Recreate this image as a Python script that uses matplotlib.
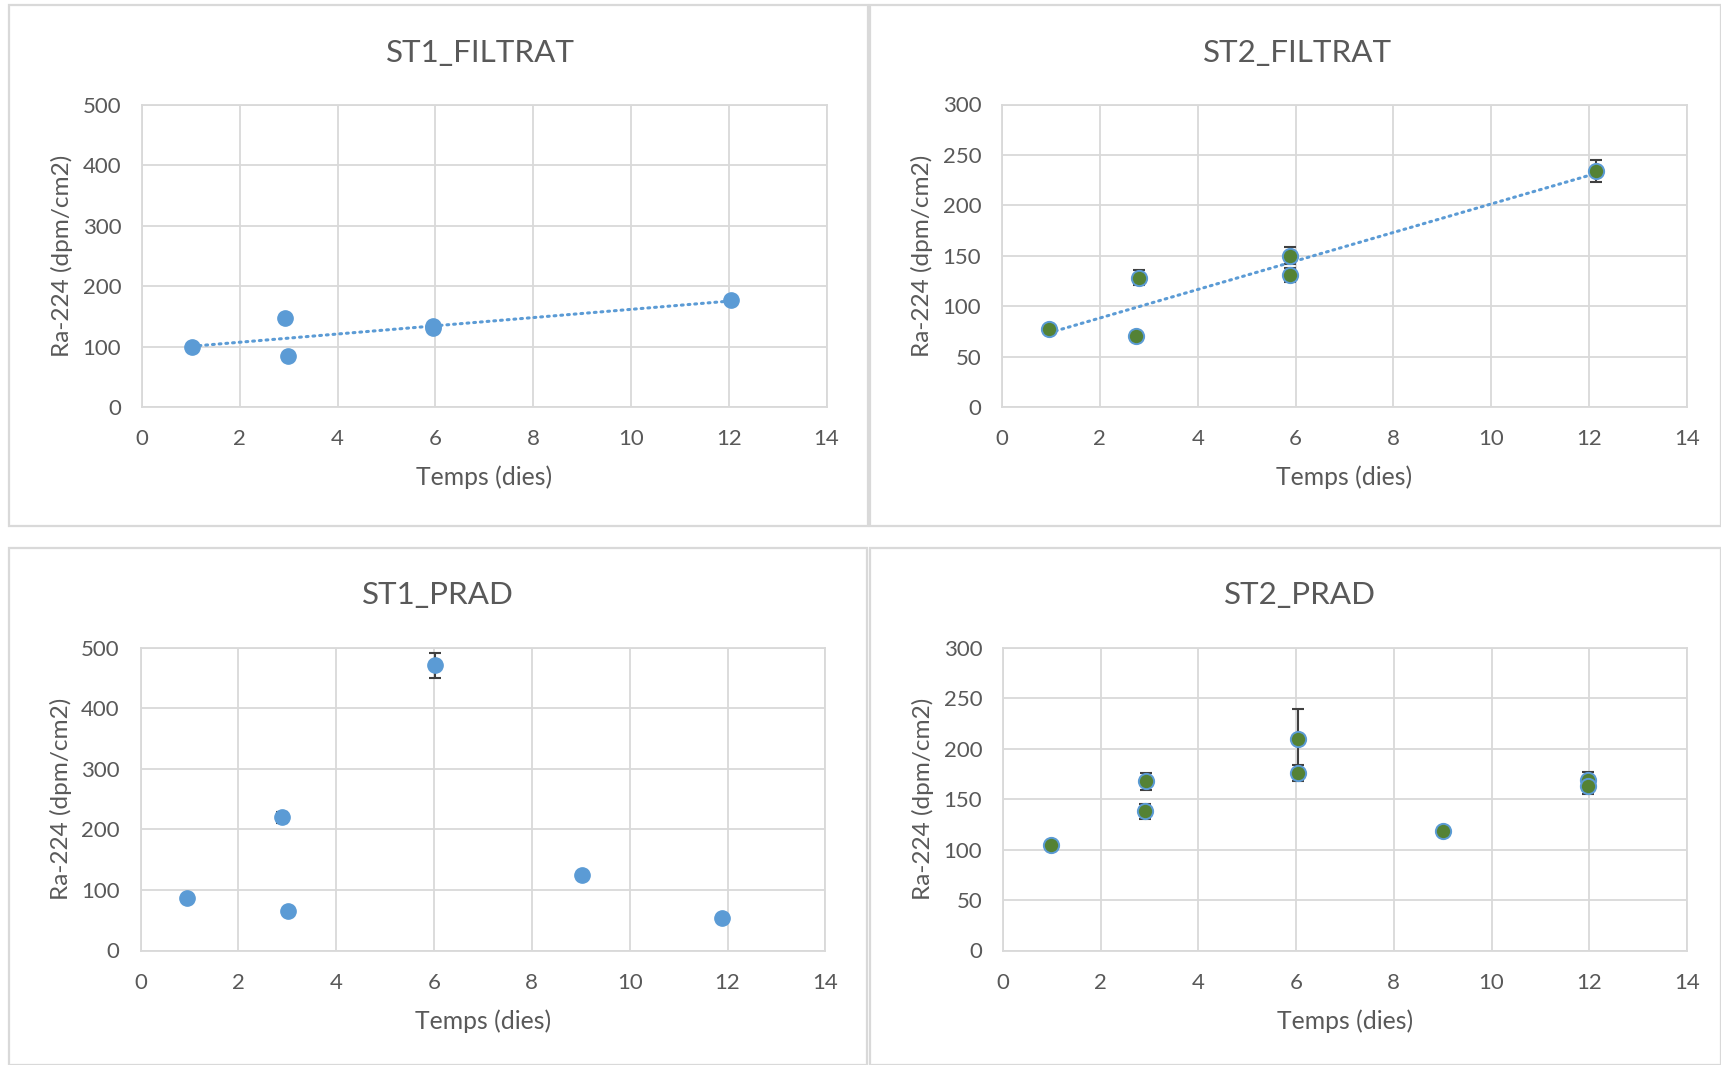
import matplotlib
matplotlib.use("Agg")
import matplotlib.pyplot as plt
import numpy as np
from matplotlib.patches import Rectangle

plt.rcParams['font.family'] = ['Lato', 'DejaVu Sans']

# ---- data ----
titles = ["ST1_FILTRAT", "ST2_FILTRAT", "ST1_PRAD", "ST2_PRAD"]
xlabel = "Temps (dies)"
ylabel = "Ra-224 (dpm/cm2)"

st1_filt_x = [1.03, 2.93, 2.98, 5.96, 5.96, 12.04]
st1_filt_y = [100, 147, 84, 130, 134, 177]

st2_filt_x = [0.96, 2.80, 2.74, 5.89, 5.89, 12.14]
st2_filt_y = [77, 128, 70, 150, 131, 234]
st2_filt_err = [2, 7.5, 2, 8.5, 7, 10.7]

st1_prad_x = [0.96, 2.90, 3.01, 6.03, 9.02, 11.89]
st1_prad_y = [86, 220, 65, 471, 124, 53]
st1_prad_err = [2, 9, 2, 20.4, 2, 2]

st2_prad_x = [0.99, 2.92, 2.90, 6.03, 6.03, 9.00, 11.98, 11.98]
st2_prad_y = [104, 167.5, 138, 209, 176, 118, 169, 162.5]
st2_prad_err = [2, 8.4, 7.4, 29.7, 7.8, 2, 7.3, 7.3]

x_ticks = [0, 2, 4, 6, 8, 10, 12, 14]
y_ticks_st1 = [0, 100, 200, 300, 400, 500]
y_ticks_st2 = [0, 50, 100, 150, 200, 250, 300]

# ---- style ----
W, H = 1721, 1065
BLUE = "#5B9BD5"
GREEN = "#548235"
GRID = "#D9D9D9"
TXT = "#595959"
ERR = "#404040"

fig = plt.figure(figsize=(W / 100, H / 100), dpi=100)

def fx(px):
    return px / W

def fy(py):
    return 1 - py / H

# panel borders (pixel boxes)
borders = [(9, 5, 868, 526), (870, 5, 1721, 526), (9, 548, 867, 1065), (870, 548, 1721, 1065)]
for (x0, y0, x1, y1) in borders:
    fig.add_artist(Rectangle((fx(x0), fy(y1)), fx(x1 - x0), (y1 - y0) / H,
                             transform=fig.transFigure, fill=False,
                             edgecolor=GRID, linewidth=1.6))

# axes boxes (left, top, right, bottom) in pixels
axboxes = [(142, 105, 826.5, 407), (1002, 104.5, 1687, 407),
           (140.5, 647.6, 825.4, 950.5), (1003, 647.6, 1687, 950.5)]
title_pos = [(480, 53), (1298, 53), (438, 595), (1300, 595)]

axes = []
for (l, t, r, b) in axboxes:
    ax = fig.add_axes([fx(l), fy(b), fx(r - l), (b - t) / H])
    axes.append(ax)

def style(ax, yticks, idx):
    ax.set_xlim(0, 14)
    ax.set_ylim(yticks[0], yticks[-1])
    ax.set_xticks(x_ticks)
    ax.set_yticks(yticks)
    ax.grid(True, color=GRID, linewidth=1.3)
    ax.set_axisbelow(True)
    for s in ax.spines.values():
        s.set_color(GRID)
        s.set_linewidth(1.3)
    ax.tick_params(length=0, labelsize=16, labelcolor=TXT)
    ax.tick_params(axis='y', pad=15)
    ax.tick_params(axis='x', pad=16)
    ax.set_xlabel(xlabel, fontsize=17.8, color=TXT)
    ax.set_ylabel(ylabel, fontsize=17.6, color=TXT)
    ax.xaxis.label.set_va('center')
    ax.yaxis.label.set_va('center')
    ax.xaxis.set_label_coords(0.5, -70 / 302)
    ax.yaxis.set_label_coords(-80 / 684.5, 0.5)
    tx, ty = title_pos[idx]
    fig.text(fx(tx), fy(ty), titles[idx], ha='center', va='center',
             fontsize=22.6, color=TXT)

# Panel 1
ax = axes[0]
style(ax, y_ticks_st1, 0)
c = np.polyfit(st1_filt_x, st1_filt_y, 1)
xs = np.array([min(st1_filt_x), max(st1_filt_x)])
ax.plot(xs, np.polyval(c, xs), linestyle=(0, (0.6, 1.6)), dash_capstyle='round',
        color=BLUE, linewidth=2.2, zorder=2)
ax.plot(st1_filt_x, st1_filt_y, 'o', color=BLUE, markersize=11, zorder=3, clip_on=False)

# Panel 2
ax = axes[1]
style(ax, y_ticks_st2, 1)
c = np.polyfit(st2_filt_x, st2_filt_y, 1)
xs = np.array([min(st2_filt_x), max(st2_filt_x)])
ax.errorbar(st2_filt_x, st2_filt_y, yerr=st2_filt_err, fmt='none', ecolor=ERR,
            elinewidth=1.5, capsize=4.5, capthick=1.5, zorder=2)
ax.plot(xs, np.polyval(c, xs), linestyle=(0, (0.6, 1.6)), dash_capstyle='round',
        color=BLUE, linewidth=2.2, zorder=3)
ax.plot(st2_filt_x, st2_filt_y, 'o', markerfacecolor=GREEN, markeredgecolor=BLUE,
        markeredgewidth=1.4, markersize=11, zorder=4)

# Panel 3
ax = axes[2]
style(ax, y_ticks_st1, 2)
ax.errorbar(st1_prad_x, st1_prad_y, yerr=st1_prad_err, fmt='none', ecolor=ERR,
            elinewidth=1.5, capsize=4.5, capthick=1.5, zorder=2)
ax.plot(st1_prad_x, st1_prad_y, 'o', color=BLUE, markersize=11, zorder=4)

# Panel 4
ax = axes[3]
style(ax, y_ticks_st2, 3)
ax.errorbar(st2_prad_x, st2_prad_y, yerr=st2_prad_err, fmt='none', ecolor=ERR,
            elinewidth=1.5, capsize=4.5, capthick=1.5, zorder=2)
ax.plot(st2_prad_x, st2_prad_y, 'o', markerfacecolor=GREEN, markeredgecolor=BLUE,
        markeredgewidth=1.4, markersize=11, zorder=4)

fig.savefig("out.png", dpi=100)
